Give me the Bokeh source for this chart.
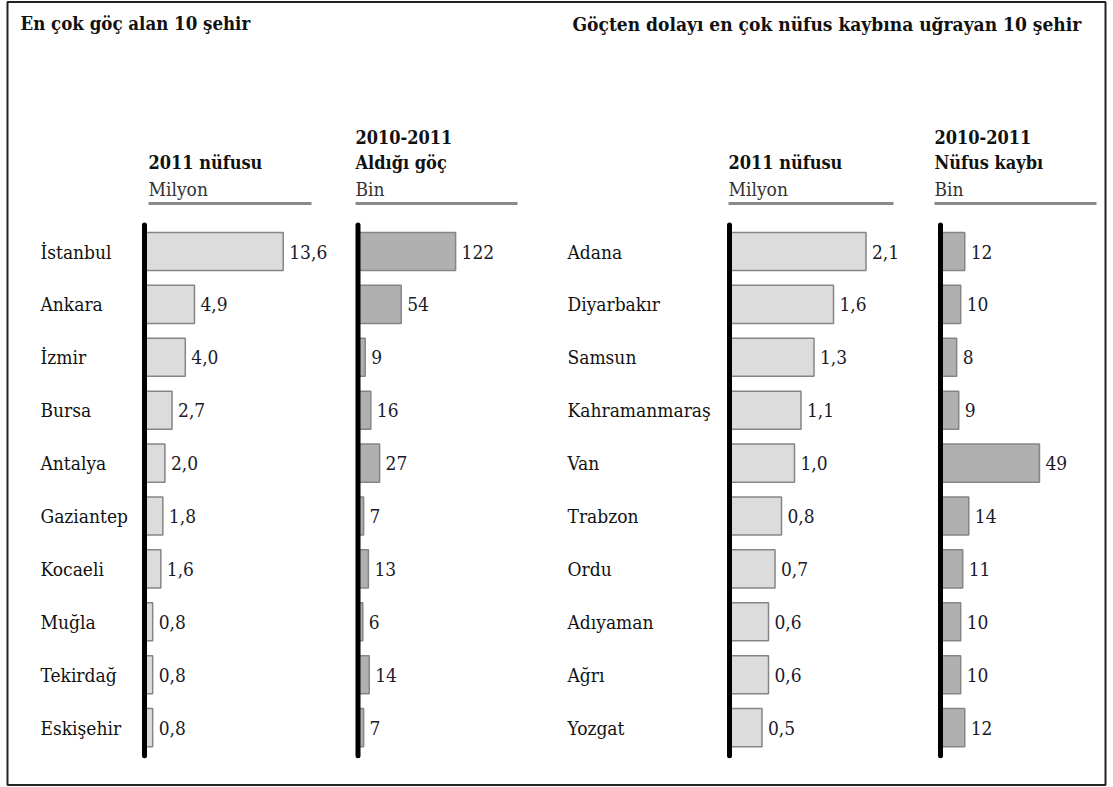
from bokeh.plotting import figure
from bokeh.models import Range1d, ColumnDataSource
from bokeh.core.properties import value
from bokeh.embed import file_html
from bokeh.resources import INLINE

# ---------------- data ----------------
gain_cities = ["İstanbul", "Ankara", "İzmir", "Bursa", "Antalya", "Gaziantep",
               "Kocaeli", "Muğla", "Tekirdağ", "Eskişehir"]
gain_pop = [13.6, 4.9, 4.0, 2.7, 2.0, 1.8, 1.6, 0.8, 0.8, 0.8]
gain_pop_labels = ["13,6", "4,9", "4,0", "2,7", "2,0", "1,8", "1,6", "0,8", "0,8", "0,8"]
gain_migr = [122, 54, 9, 16, 27, 7, 13, 6, 14, 7]

loss_cities = ["Adana", "Diyarbakır", "Samsun", "Kahramanmaraş", "Van", "Trabzon",
               "Ordu", "Adıyaman", "Ağrı", "Yozgat"]
loss_pop = [2.1, 1.6, 1.3, 1.1, 1.0, 0.8, 0.7, 0.6, 0.6, 0.5]
loss_pop_labels = ["2,1", "1,6", "1,3", "1,1", "1,0", "0,8", "0,7", "0,6", "0,6", "0,5"]
loss_migr = [12, 10, 8, 9, 49, 14, 11, 10, 10, 12]

title_left = "En çok göç alan 10 şehir"
title_right = "Göçten dolayı en çok  nüfus kaybına uğrayan 10 şehir"

# ---------------- layout ----------------
W, H = 1113, 787
FONT = value("DejaVu Serif Condensed")
FS = "19px"
FSH = "18px"

p = figure(width=W, height=H, output_backend="svg", toolbar_location=None,
           x_range=Range1d(0, W), y_range=Range1d(H, 0),
           x_axis_type=None, y_axis_type=None, min_border=0,
           outline_line_color=None, background_fill_color="white")
p.grid.visible = False

row0, rowstep = 251.0, 52.9
p.extra_y_ranges = {"rows": Range1d(start=(H - row0) / rowstep, end=-row0 / rowstep)}

panels = {"p1": (144.0, 10.2), "p2": (357.5, 0.80), "p3": (729.0, 65.0), "p4": (940.0, 2.02)}
p.extra_x_ranges = {k: Range1d(start=-ax / s, end=(W - ax) / s) for k, (ax, s) in panels.items()}

rows = list(range(10))

p.rect(x=[556], y=[393], width=[1098], height=[783], fill_color=None,
       line_color="#222222", line_width=2)

p.text(x=[20], y=[23], text=[title_left], text_font=FONT,
       text_font_size="18.5px", text_font_style="bold", text_baseline="middle",
       text_color="#111111")
p.text(x=[572], y=[23], text=[title_right], text_font=FONT,
       text_font_size=FS, text_font_style="bold", text_baseline="middle",
       text_color="#111111")

hx = [148, 355, 728, 934]
p.text(x=[355, 934], y=[136, 136], text=["2010-2011", "2010-2011"], text_font=FONT,
       text_font_size=FSH, text_font_style="bold", text_baseline="middle", text_color="#111111")
p.text(x=hx, y=[162] * 4, text=["2011 nüfusu", "Aldığı göç", "2011 nüfusu", "Nüfus kaybı"],
       text_font=FONT, text_font_size=FSH, text_font_style="bold", text_baseline="middle",
       text_color="#111111")
p.text(x=hx, y=[188] * 4, text=["Milyon", "Bin", "Milyon", "Bin"], text_font=FONT,
       text_font_size=FS, text_baseline="middle", text_color="#333333")
p.segment(x0=hx, y0=[203] * 4, x1=[311, 517, 893, 1096], y1=[203] * 4,
          line_color="#8a8a8a", line_width=3)

p.text(x=[40] * 10, y=rows, text=gain_cities, y_range_name="rows", text_font=FONT,
       text_font_size=FS, text_baseline="middle", text_color="#111111")
p.text(x=[567] * 10, y=rows, text=loss_cities, y_range_name="rows", text_font=FONT,
       text_font_size=FS, text_baseline="middle", text_color="#111111")

LIGHT, DARK, EDGE = "#dcdcdc", "#b0b0b0", "#858585"
series = [("p1", gain_pop, gain_pop_labels, LIGHT),
          ("p2", gain_migr, [str(v) for v in gain_migr], DARK),
          ("p3", loss_pop, loss_pop_labels, LIGHT),
          ("p4", loss_migr, [str(v) for v in loss_migr], DARK)]

for name, vals, labels, col in series:
    src = ColumnDataSource(dict(y=rows, v=vals, lab=labels))
    p.hbar(y="y", left=0, right="v", height=0.72, source=src, fill_color=col,
           line_color=EDGE, line_width=1.5, x_range_name=name, y_range_name="rows")
    p.text(x="v", y="y", text="lab", source=src, x_offset=6, text_font=FONT,
           text_font_size=FS, text_baseline="middle", text_color="#1a1a2a",
           x_range_name=name, y_range_name="rows")
    p.segment(x0=[0], y0=[-0.5], x1=[0], y1=[9.53], line_color="black", line_width=5,
              line_cap="round", x_range_name=name, y_range_name="rows")

open("out.html", "w").write(file_html(p, INLINE))
